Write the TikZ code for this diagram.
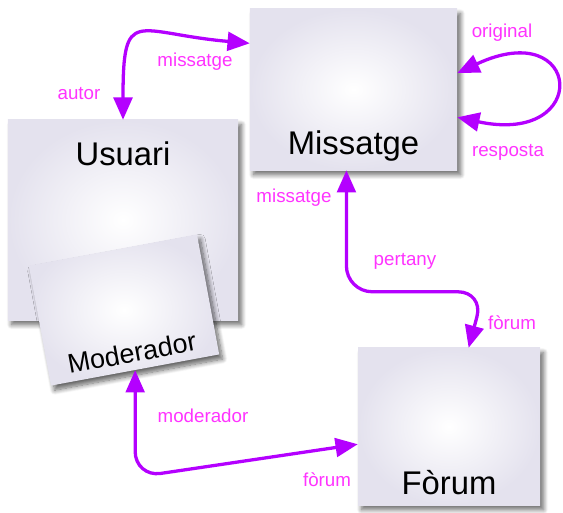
\documentclass[tikz,border=0pt]{standalone}
\usepackage{fontspec}
\setmainfont{Liberation Sans}
\usetikzlibrary{arrows.meta,shadows.blur}
\definecolor{colfletxa}{RGB}{180,0,255}
\definecolor{colrel}{RGB}{255,51,255}
\definecolor{colvora}{RGB}{228,226,238}
\tikzset{
  caixa/.style={inner sep=0pt, inner color=white, outer color=colvora,
    font=\fontsize{28}{30}\selectfont,
    blur shadow={shadow xshift=3pt, shadow yshift=-4pt, shadow blur radius=4pt,
      shadow blur steps=10, shadow opacity=60}},
  rel/.style={font=\fontsize{16}{18}\selectfont, text=colrel},
  fletxa/.style={colfletxa, line width=2.8pt,
    {Triangle[length=19pt,width=16pt]}-{Triangle[length=19pt,width=16pt]}},
}

\begin{document}
\begin{tikzpicture}[x=0.03cm,y=-0.03cm]
	\useasboundingbox (0,0) rectangle (563,513);
	% caixes
	\node[caixa, minimum width=6.9cm, minimum height=6cm, text height=0.71cm, text depth=3.95cm] (usuari) at (123,220) {Usuari};
	\node[caixa, minimum width=5.13cm, minimum height=3.66cm, rotate=10.5, font=\fontsize{23}{25}\selectfont,
		text height=3.38cm, text depth=0.2cm] (moderador) at (124,310) {Moderador};
	\node[caixa, minimum width=6.21cm, minimum height=4.83cm, text height=4.12cm, text depth=0.25cm] (missatge) at (353.5,89.5) {Missatge};
	\node[caixa, minimum width=5.46cm, minimum height=4.71cm, text height=4.3cm, text depth=0.25cm] (forum) at (449,426.5) {Fòrum};
	% relacions
	\draw[fletxa] (usuari.north) to[out=90,in=175,looseness=2] (missatge.156);
	\draw[fletxa] (missatge.9) to[out=25,in=-12,looseness=8] (missatge.-15);
	\draw[fletxa, rounded corners=22pt] (missatge.-95) |- ([shift={(15,-56)}]forum.76) -- (forum.76);
	\draw[fletxa, rounded corners=22pt] (moderador.south) -- ++(0,107) -- (forum.191);
	\node[rel] (lAutor) at (79,94) {autor};
	\node[rel] (lMissatgeA) at (195,62) {missatge};
	\node[rel] (lOriginal) at (502,33) {original};
	\node[rel] (lResposta) at (508,152) {resposta};
	\node[rel] (lMissatgeB) at (294,198) {missatge};
	\node[rel] (lPertany) at (405,261) {pertany};
	\node[rel] (lForumA) at (512,323) {fòrum};
	\node[rel] (lModerador) at (203,416) {moderador};
	\node[rel] (lForumB) at (327,480) {fòrum};
\end{tikzpicture}
\end{document}
